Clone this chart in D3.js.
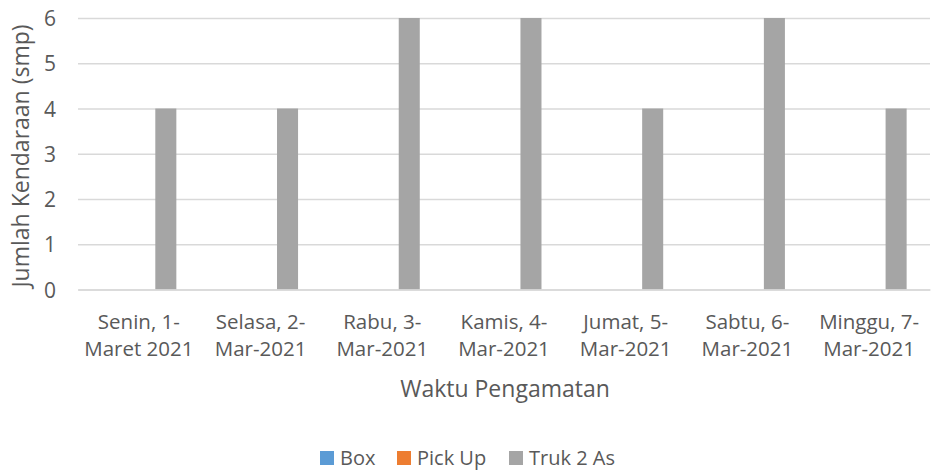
<!DOCTYPE html>
<html><head><meta charset="utf-8">
<script src="https://cdn.jsdelivr.net/npm/d3@7"></script>
<style>body{margin:0;background:#fff}svg{display:block}text{font-family:"Open Sans",sans-serif;fill:#595959}</style>
</head><body><svg id="c" width="935" height="472"></svg>
<script>
const categories = [["Senin, 1-","Maret 2021"],["Selasa, 2-","Mar-2021"],["Rabu, 3-","Mar-2021"],["Kamis, 4-","Mar-2021"],["Jumat, 5-","Mar-2021"],["Sabtu, 6-","Mar-2021"],["Minggu, 7-","Mar-2021"]];
const seriesNames = ["Box","Pick Up","Truk 2 As"];
const boxValues = [0,0,0,0,0,0,0];
const pickUpValues = [0,0,0,0,0,0,0];
const trukValues = [4,4,6,6,4,6,4];
const yTicks = [0,1,2,3,4,5,6];
const colors = ["#5B9BD5","#ED7D31","#A5A5A5"];
const series = [boxValues, pickUpValues, trukValues];

const svg = d3.select("#c");
const L = 78, R = 930, T = 18, B = 289.5;
const x0 = d3.scaleBand().domain(d3.range(categories.length)).range([L,R]).paddingInner(0.384).paddingOuter(0.192);
const x1 = d3.scaleBand().domain(d3.range(series.length)).range([0,x0.bandwidth()]).paddingInner(0.22);
const y = d3.scaleLinear().domain([0,6]).range([B,T]);

// gridlines
const yAxis = d3.axisLeft(y).tickValues(yTicks).tickSize(-(R-L)).tickPadding(22).tickFormat(d3.format("d"));
const ga = svg.append("g").attr("transform",`translate(${L},0)`).call(yAxis);
ga.select(".domain").remove();
ga.selectAll("line").attr("stroke","#d9d9d9").attr("stroke-width",1.3);
ga.selectAll("text").style("font-size","21px").style("font-family","'Open Sans',sans-serif").attr("fill","#595959").attr("dy","0.36em");

// bars
series.forEach((vals,si)=>{
  svg.append("g").selectAll("rect").data(vals).join("rect")
    .attr("x",(d,i)=>x0(i)+x1(si)).attr("width",x1.bandwidth())
    .attr("y",d=>y(d)).attr("height",d=>y(0)-y(d)).attr("fill",colors[si]);
});

// x axis labels
const xa = svg.append("g").attr("transform",`translate(0,${B})`).call(d3.axisBottom(x0).tickSize(0).tickFormat(()=>"") );
xa.select(".domain").attr("stroke","#d9d9d9").attr("stroke-width",1.3);
categories.forEach((c,i)=>{
  const cx = x0(i)+x0.bandwidth()/2;
  svg.append("text").attr("x",cx).attr("y",329).attr("text-anchor","middle").style("font-size","20.5px").text(c[0]);
  svg.append("text").attr("x",cx).attr("y",356).attr("text-anchor","middle").style("font-size","20.5px").text(c[1]);
});

// titles
svg.append("text").attr("x",505).attr("y",397).attr("text-anchor","middle").style("font-size","23px").text("Waktu Pengamatan");
svg.append("text").attr("transform","translate(29,156) rotate(-90)").attr("text-anchor","middle").style("font-size","23px").text("Jumlah Kendaraan (smp)");

// legend
const legX = [320,397,509];
seriesNames.forEach((n,i)=>{
  svg.append("rect").attr("x",legX[i]).attr("y",451).attr("width",14).attr("height",14).attr("fill",colors[i]);
  svg.append("text").attr("x",legX[i]+20).attr("y",465).style("font-size","20px").text(n);
});
</script></body></html>
